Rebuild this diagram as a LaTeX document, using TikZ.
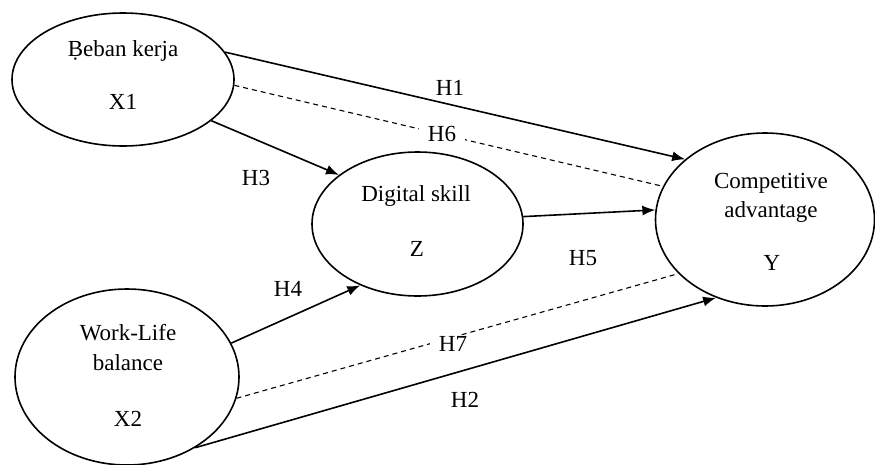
\documentclass[tikz,border=0pt]{standalone}
\usepackage{fontspec}
\setmainfont{Liberation Serif}
\usetikzlibrary{shapes.geometric,arrows.meta}

\begin{document}
\begin{tikzpicture}[x=1pt,y=-1pt,>={Latex[length=13pt,width=10pt]},
		every node/.style={font=\fontsize{23}{28}\selectfont},
		var/.style={draw,ellipse,line width=1.6pt,inner sep=0pt},
		txt/.style={anchor=base,inner sep=0pt},
		hyp/.style={->,line width=1.6pt},
		med/.style={line width=1.1pt,dash pattern=on 5pt off 4pt},
		lbl/.style={anchor=base,inner sep=0pt},
		cut/.style={anchor=base,fill=white,inner xsep=9pt,inner ysep=1pt}]
			%%%	Help Lines
%			\draw [thin, help lines] (0,0) grid[step=50] (875,464);
			\useasboundingbox (0,0) rectangle (875,464);
			%%%	Variabel
			\node[var,minimum width=222,minimum height=133] (bk) at (123,79.5) {};
			\node[var,minimum width=211,minimum height=144] (dg) at (417.5,224) {};
			\node[var,minimum width=224,minimum height=176] (wl) at (127,377) {};
			\node[var,minimum width=219,minimum height=173] (ca) at (765,219.5) {};
			\node[txt] (bk1) at (123,56) {\d{B}eban kerja};
			\node[txt] (bk2) at (123,109) {X1};
			\node[txt] (dg1) at (416,201.5) {Digital skill};
			\node[txt] (dg2) at (417,256) {Z};
			\node[txt] (wl1) at (128,340.5) {Work-Life};
			\node[txt] (wl2) at (128,370) {balance};
			\node[txt] (wl3) at (128,426) {X2};
			\node[txt] (ca1) at (771,188) {Competitive};
			\node[txt] (ca2) at (771,217) {advantage};
			\node[txt] (ca3) at (772,270.5) {Y};
			%%%	Hipotesis
			\draw[hyp] (bk.15) -- (ca.143);
			\draw[med] (bk.357) -- (ca.162);
			\draw[hyp] (bk.335) -- (dg.148);
			\draw[hyp] (dg.4) -- (ca.175);
			\draw[hyp] (wl.18) -- (dg.227);
			\draw[med] (wl.349) -- (ca.212);
			\draw[hyp] (wl.314) -- (ca.238);
			\node[lbl] (h1) at (450,95.5) {H1};
			\node[cut] (h6) at (442,141) {H6};
			\node[lbl] (h3) at (256,185) {H3};
			\node[lbl] (h5) at (583,265) {H5};
			\node[lbl] (h4) at (288,296) {H4};
			\node[cut] (h7) at (453,351.5) {H7};
			\node[lbl] (h2) at (465,407) {H2};
		\end{tikzpicture}
\end{document}
